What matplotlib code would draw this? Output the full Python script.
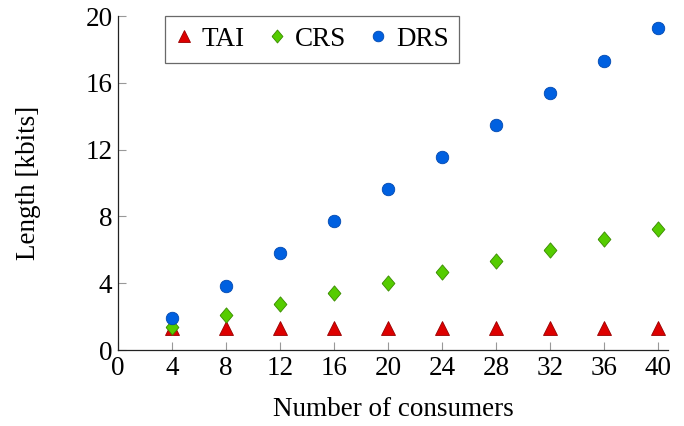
import matplotlib
matplotlib.use("Agg")
import matplotlib.pyplot as plt

# data
consumers = [4, 8, 12, 16, 20, 24, 28, 32, 36, 40]
tai = [1.33, 1.33, 1.33, 1.33, 1.33, 1.33, 1.33, 1.33, 1.33, 1.33]
crs = [1.4, 2.1, 2.75, 3.4, 4.04, 4.67, 5.33, 5.98, 6.62, 7.27]
drs = [1.93, 3.85, 5.78, 7.7, 9.63, 11.55, 13.48, 15.4, 17.33, 19.26]

x_ticks = [0, 4, 8, 12, 16, 20, 24, 28, 32, 36, 40]
y_ticks = [0, 4, 8, 12, 16, 20]

plt.rcParams["font.family"] = ["Liberation Serif", "DejaVu Serif"]
plt.rcParams["font.size"] = 19.5

# pgfplots style diamond, a bit wider than matplotlib's "d"
diamond = [(-0.42, 0), (0, 0.5), (0.42, 0), (0, -0.5), (-0.42, 0)]

fig = plt.figure(figsize=(6.84, 4.26), dpi=100)
ax = fig.add_axes([0.1725, 0.1784, 0.8041, 0.784])

ax.plot(consumers, tai, linestyle="none", marker="^", markersize=9.5,
        color="#dd0000", markeredgecolor="#990000", markeredgewidth=0.6, label="TAI")
ax.plot(consumers, crs, linestyle="none", marker=diamond, markersize=11,
        color="#55cc00", markeredgecolor="#3a8a00", markeredgewidth=0.6, label="CRS")
ax.plot(consumers, drs, linestyle="none", marker="o", markersize=9,
        color="#0060e0", markeredgecolor="#0048b0", markeredgewidth=0.6, label="DRS")

ax.set_xlim(0, 40.75)
ax.set_ylim(0, 20)
ax.set_xticks(x_ticks)
ax.set_yticks(y_ticks)
ax.spines["top"].set_visible(False)
ax.spines["right"].set_visible(False)
for s in ["left", "bottom"]:
    ax.spines[s].set_color("#222222")
    ax.spines[s].set_linewidth(0.9)
ax.tick_params(direction="in", length=6, width=0.8, color="#999999", pad=4)

ax.set_xlabel("Number of consumers", labelpad=12)
ax.set_ylabel("Length [kbits]", labelpad=32)

leg = ax.legend(loc="upper left", bbox_to_anchor=(0.085, 1.0), ncol=3,
                frameon=True, fancybox=False, handletextpad=0.35,
                columnspacing=0.9, borderpad=0.4, handlelength=0.6,
                borderaxespad=0, markerscale=0.85)
leg.get_frame().set_edgecolor("#444444")
leg.get_frame().set_linewidth(0.9)

fig.savefig("out.png", dpi=100)
